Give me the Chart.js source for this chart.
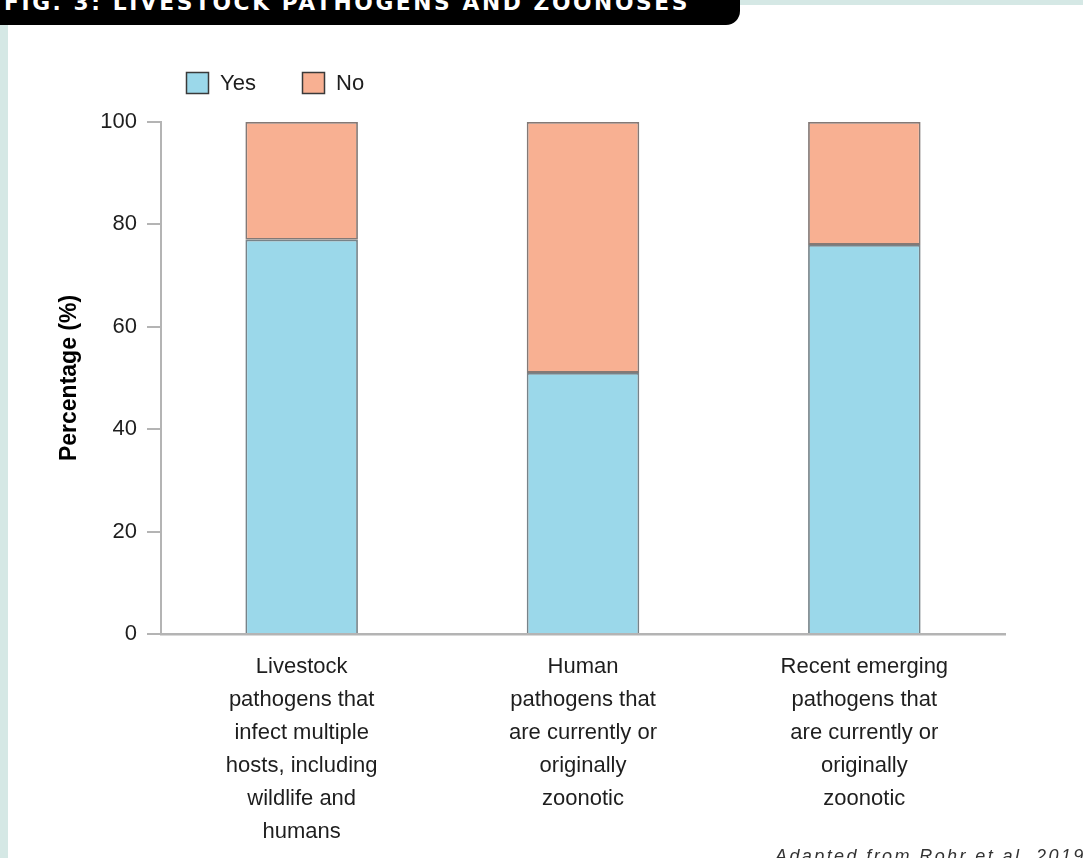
<!DOCTYPE html>
<html lang="en">

<head>
    <meta charset="UTF-8">
    <title>Fig. 3: Livestock pathogens and zoonoses</title>
    <script src="https://cdn.jsdelivr.net/npm/chart.js@4.4.1/dist/chart.umd.min.js"></script>
    <style>
        html, body { margin: 0; padding: 0; }
        body {
            width: 1083px;
            height: 858px;
            position: relative;
            overflow: hidden;
            background: #d5e8e5;
            font-family: "Liberation Sans", Arial, sans-serif;
        }
        .panel {
            position: absolute;
            left: 8px;
            top: 5px;
            right: 0;
            bottom: 0;
            background: #ffffff;
        }
        .tab {
            position: absolute;
            left: 0;
            top: 0;
            width: 740px;
            height: 25px;
            background: #000;
            border-bottom-right-radius: 14px;
            overflow: hidden;
        }
        .tab span {
            position: absolute;
            left: 4px;
            top: -7px;
            line-height: 1;
            color: #fff;
            font-family: "DejaVu Sans", sans-serif;
            font-weight: bold;
            font-size: 21px;
            letter-spacing: 2.5px;
            white-space: nowrap;
            transform-origin: 0 0;
        }
        .source {
            position: absolute;
            left: 775px;
            top: 846px;
            color: #333;
            font-style: italic;
            font-size: 18px;
            letter-spacing: 2.4px;
            white-space: nowrap;
        }
        #mychart { position: absolute; left: 0; top: 0; }
    </style>
</head>

<body>
    <div class="panel"></div>
    <canvas id="mychart" width="1083" height="858"></canvas>
    <div class="tab"><span id="figtitle">FIG. 3: LIVESTOCK PATHOGENS AND ZOONOSES</span></div>
    <div class="source">Adapted from Rohr et al. 2019</div>

    <script>
        // categories (one line per array item)
        var categories = [
            ['Livestock', 'pathogens that', 'infect multiple', 'hosts, including', 'wildlife and', 'humans'],
            ['Human', 'pathogens that', 'are currently or', 'originally', 'zoonotic'],
            ['Recent emerging', 'pathogens that', 'are currently or', 'originally', 'zoonotic']
        ];
        var yesValues = [77, 51, 76];
        var noValues = [23, 49, 24];
        var yTicks = [0, 20, 40, 60, 80, 100];

        // stretch/squeeze the tab title to its width
        var t = document.getElementById('figtitle');
        t.style.transform = 'scaleX(' + (686 / t.getBoundingClientRect().width) + ')';

        var axisColor = '#b4b4b4';
        var textColor = '#1e1e1e';

        // legend drawn as plain boxes above the plot
        var boxLegend = {
            id: 'boxLegend',
            afterDraw: function (chart) {
                var c = chart.ctx;
                var x = 186;
                c.save();
                c.font = '22px "Liberation Sans", Arial, sans-serif';
                c.textBaseline = 'middle';
                chart.data.datasets.forEach(function (ds) {
                    c.fillStyle = ds.backgroundColor;
                    c.fillRect(x, 72, 23, 22);
                    c.strokeStyle = '#3a3a3a';
                    c.lineWidth = 1.5;
                    c.strokeRect(x + 0.5, 72.5, 22, 21);
                    c.fillStyle = textColor;
                    c.fillText(ds.label, x + 34, 84);
                    x = 302;
                });
                c.restore();
            }
        };

        const ctx = document.getElementById('mychart');

        var mychart = new Chart(ctx, {
            type: 'bar',
            data: {
                labels: categories,
                datasets: [{
                    label: 'Yes',
                    data: yesValues,
                    backgroundColor: '#9bd8ea',
                    borderColor: 'rgba(85,100,108,0.8)',
                    borderWidth: 1.8,
                    borderSkipped: 'bottom'
                }, {
                    label: 'No',
                    data: noValues,
                    backgroundColor: '#f8b092',
                    borderColor: 'rgba(100,88,84,0.8)',
                    borderWidth: 1.8,
                    borderSkipped: false
                }]
            },
            options: {
                responsive: false,
                animation: false,
                devicePixelRatio: 1,
                layout: {
                    padding: { left: 40, top: 122, right: 78, bottom: 0 }
                },
                plugins: {
                    legend: { display: false },
                    tooltip: { enabled: false }
                },
                datasets: {
                    bar: { categoryPercentage: 1, barPercentage: 0.4 }
                },
                scales: {
                    x: {
                        stacked: true,
                        grid: { display: false },
                        border: { display: true, color: axisColor, width: 2.5 },
                        ticks: {
                            color: textColor,
                            padding: 8,
                            maxRotation: 0,
                            font: { family: '"Liberation Sans", Arial, sans-serif', size: 22, lineHeight: 1.5 }
                        },
                        afterFit: function (scale) { scale.height = 224; }
                    },
                    y: {
                        stacked: true,
                        min: 0,
                        max: 100,
                        afterBuildTicks: function (scale) {
                            scale.ticks = yTicks.map(function (v) { return { value: v }; });
                        },
                        grid: {
                            drawOnChartArea: false,
                            drawTicks: true,
                            tickLength: 14,
                            color: axisColor,
                            lineWidth: 2
                        },
                        border: { display: true, color: axisColor, width: 2 },
                        ticks: {
                            color: textColor,
                            padding: 10,
                            font: { family: '"Liberation Sans", Arial, sans-serif', size: 22 }
                        },
                        title: {
                            display: true,
                            text: 'Percentage (%)',
                            color: '#000',
                            padding: { top: 16, bottom: 0 },
                            font: { family: '"Liberation Sans", Arial, sans-serif', size: 23, weight: 'bold' }
                        },
                        afterFit: function (scale) { scale.width = 121; }
                    }
                }
            },
            plugins: [boxLegend]
        });
    </script>
</body>

</html>
